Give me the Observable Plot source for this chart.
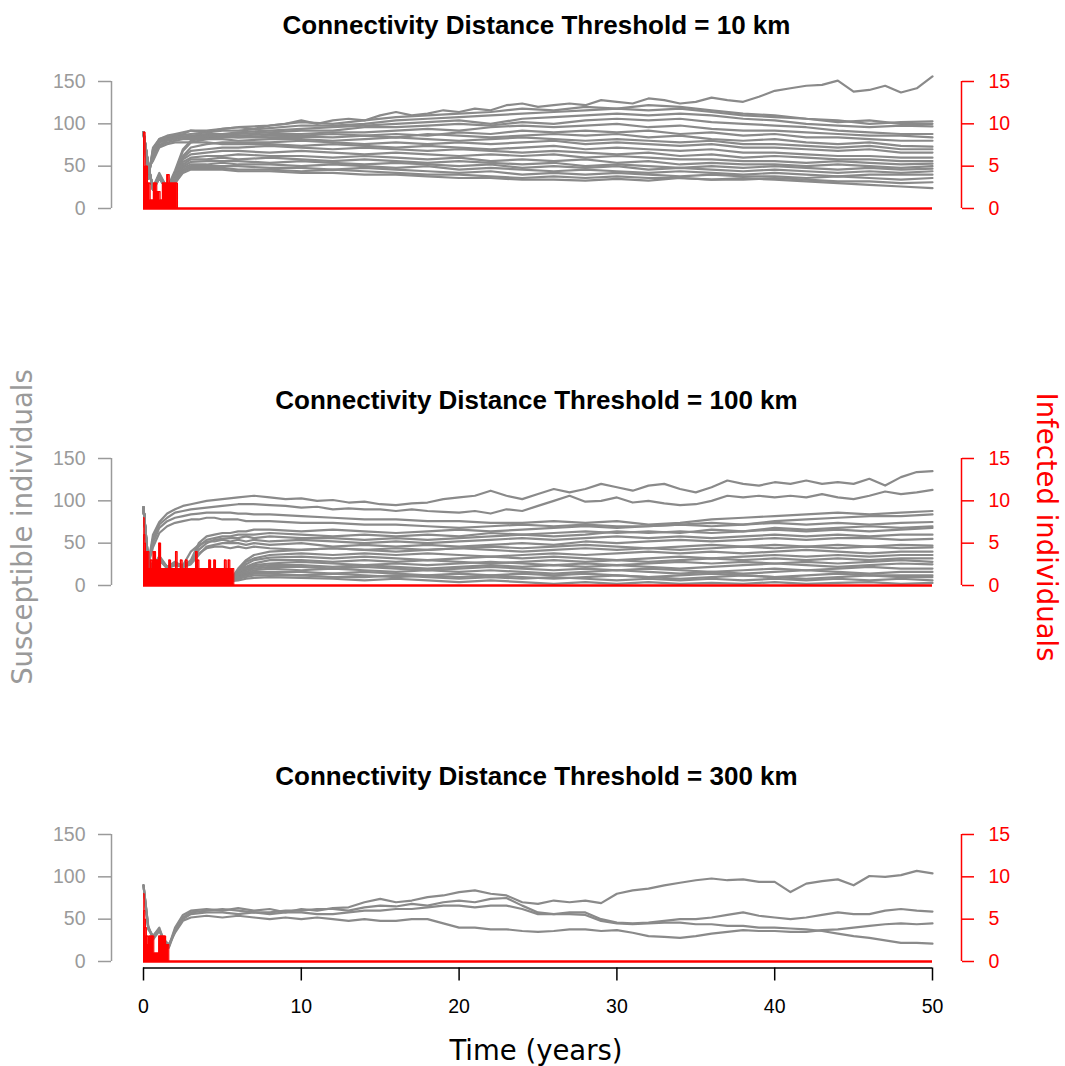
<!DOCTYPE html>
<html>
<head>
<meta charset="utf-8">
<script src="https://cdn.jsdelivr.net/npm/d3@7"></script>
<script src="https://cdn.jsdelivr.net/npm/@observablehq/plot@0.6"></script>
<style>
  body { margin: 0; background: #fff; }
  #root { position: relative; width: 1065px; height: 1066px; overflow: hidden; font-family: "Liberation Sans", Arial, sans-serif; }
  .title { position: absolute; left: 0; width: 1073px; text-align: center; font-weight: bold; font-size: 26px; line-height: 26px; color: #000; }
  .lab { position: absolute; white-space: nowrap; font-family: "DejaVu Sans", sans-serif; font-size: 27.5px; line-height: 28px; }
  svg.panel { position: absolute; left: 0; }
</style>
</head>
<body>
<div id="root"></div>
<script>
// ---------------- DATA ----------------
const titles = [
  "Connectivity Distance Threshold = 10 km",
  "Connectivity Distance Threshold = 100 km",
  "Connectivity Distance Threshold = 300 km"
];
const leftTicks = [0, 50, 100, 150];
const rightTicks = [0, 5, 10, 15];
const xTicks = [0, 10, 20, 30, 40, 50];

// yearly grid used by the individually readable trajectories
const yearlyGrid = [0,0.3,0.6,1,1.5,2,2.5,3,4,5,6,7,8,9,10,11,12,13,14,15,16,17,18,19,20,21,22,23,24,25,26,27,28,29,30,31,32,33,34,35,36,37,38,39,40,41,42,43,44,45,46,47,48,49,50];

// Panel 1 (10 km)
const timesP1 = [0,0.3,0.6,1,1.5,2,2.5,3,4,5,6,8,10,12,14,16,18,20,22,24,26,28,30,32,34,36,38,40,42,44,46,48,50];
const topLineP1 = [90,35,70,82,85,86,88, 92,90,94,96,94,98,100,104,100,104,106,104,110,114,110,112,116,114,118,116,122,124,120,122,124,122,128,126,124,130,128,124,126,131,128,126,132,139,142,145,146,151,138,140,145,137,142,156];
const susP1 = [
  [90,35,72,82,86,88,90,92, 92,94,96,98,102,100,104,108,110,112,114,118,116,120,118,122,120,116,112,110,106,104,100,102,103],
  [90,35,68,80,84,86,87,88, 90,92,92,95,98,98,100,104,106,108,110,112,114,116,118,116,118,114,110,108,106,102,104,100,100],
  [90,40,65,78,82,84,85,86, 88,88,90,92,94,96,98,100,102,104,100,106,108,110,112,110,112,110,106,104,100,98,96,98,97],
  [90,40,62,78,82,84,85,85, 86,88,88,90,92,92,96,96,98,100,98,102,100,104,106,104,106,102,100,98,96,92,90,88,88],
  [90,50,25,42,24,45,70,80, 84,85,86,88,88,90,90,92,94,92,96,98,96,98,100,96,98,94,92,92,90,88,86,86,84],
  [90,45,60,75,80,82,84,84, 85,86,84,86,86,88,86,88,86,90,88,92,90,92,90,92,88,90,86,88,84,84,82,80,80],
  [90,50,22,38,22,42,68,78, 82,84,84,84,85,84,86,84,88,86,84,86,88,86,88,84,86,82,80,82,78,76,78,74,73],
  [90,45,58,74,78,80,82,82, 82,82,80,82,82,80,82,84,82,80,82,84,82,80,82,80,78,80,76,76,74,72,74,70,70],
  [90,50,24,40,24,40,62,72, 76,78,78,78,80,78,76,78,76,78,76,78,80,76,78,76,74,76,72,72,70,68,70,66,66],
  [90,48,56,72,76,78,78,78, 78,76,76,76,74,76,74,72,74,72,70,72,74,70,72,70,68,70,66,66,64,62,62,60,60],
  [90,52,22,36,22,38,60,68, 70,72,72,74,72,70,72,70,68,70,68,66,68,66,64,66,62,64,60,62,60,58,58,56,56],
  [90,50,24,40,22,40,58,64, 66,68,68,66,68,66,64,66,64,62,64,62,64,60,62,60,58,58,56,56,54,56,54,52,53],
  [90,52,22,36,24,38,55,60, 62,62,64,62,62,60,62,60,58,60,56,58,56,58,54,56,52,54,52,52,50,52,50,48,50],
  [90,50,23,38,22,36,52,58, 58,60,58,60,58,56,58,56,54,56,54,52,54,50,52,50,48,50,48,50,48,46,48,46,47],
  [90,52,22,36,22,35,50,55, 56,56,56,54,56,54,52,54,52,50,52,48,50,48,50,46,48,46,44,46,44,42,44,42,44],
  [90,50,24,38,24,34,48,52, 52,54,52,52,50,52,50,48,50,46,48,46,44,46,44,42,44,42,40,42,40,38,40,40,40],
  [90,52,22,36,22,32,46,50, 50,50,50,48,48,46,48,46,44,42,44,40,42,40,42,40,38,40,38,38,36,38,36,34,36],
  [90,50,23,37,24,30,44,48, 48,48,46,46,44,46,44,42,40,40,38,36,38,36,38,36,36,34,34,36,34,32,32,30,31],
  [90,52,22,36,22,30,42,46, 46,46,44,44,42,42,40,40,38,36,36,34,34,33,35,33,36,34,36,34,32,30,28,26,24]
];
const infTimesP1 = [0,0.1,0.25,0.42,0.63,0.84,1.05,1.2,1.48,1.63,2.15];
const infP1 = [9,5,3,1,3,2,1,3,4,3,0];

// Panel 2 (100 km)
const timesP2 = [0,0.3,0.6,1,1.5,2,2.5,3,3.5,4,4.5,5,5.5,6,6.5,7,8,10,12,14,16,18,20,22,24,26,28,30,32,34,36,38,40,42,44,46,48,50];
const topLineP2 = [92,25,60,75,85,90,94, 96,100,102,104,106,104,102,103,100,101,98,99,96,95,97,98,102,104,106,112,106,102,108,114,110,114,120,116,112,118,120,114,110,116,124,120,118,122,120,124,120,122,120,126,118,128,134,135];
const secondLineP2 = [92,25,55,72,80,86,88, 90,92,94,96,96,95,94,92,93,90,91,90,90,88,90,88,87,86,88,85,90,88,94,100,106,99,100,104,98,100,97,95,96,100,106,104,106,104,106,104,108,104,102,106,111,108,110,113];
const susP2 = [
  [92,25,50,68,76,80,82,84,85,86,86,86,86,85,85,84, 84,82,80,78,78,76,76,74,74,76,74,76,72,74,78,80,82,84,86,84,86,88],
  [92,25,45,62,70,74,76,78,78,80,80,78,78,78,76,76, 76,74,74,72,72,70,68,70,72,70,72,70,70,72,70,72,74,72,74,72,74,75],
  [92,30,20,35,22,28,22,30,50,58,60,62,62,64,64,66, 66,64,66,64,62,64,66,64,66,68,70,68,70,72,74,72,76,78,80,82,82,84],
  [92,30,22,32,20,26,24,28,46,54,56,58,58,60,60,60, 62,60,58,60,58,60,58,62,60,62,64,62,64,62,66,64,68,66,68,70,68,70],
  [92,28,20,30,22,25,22,26,42,50,54,55,56,56,58,56, 58,56,56,54,56,54,56,58,60,58,60,64,62,64,62,64,66,64,66,64,66,68],
  [92,30,22,34,22,24,24,40,48,52,52,54,52,54,52,54, 52,54,52,50,52,50,52,54,56,54,56,58,56,58,56,58,60,58,60,58,60,60],
  [92,28,20,30,20,24,22,25,36,46,48,50,50,50,48,50, 48,50,46,48,46,48,46,48,50,48,52,50,52,54,52,54,56,54,56,56,54,55],
  [92,30,22,32,22,26,24,28,38,44,46,46,44,46,44,46, 44,42,44,42,40,42,44,42,40,42,44,42,44,42,44,46,44,46,44,46,44,45],
  [92,20,12,15,10,8,10,8,8,6,8,6,5,18,28,32, 36,38,36,38,36,38,36,34,36,38,36,38,40,38,40,38,40,42,40,38,40,40],
  [92,22,14,12,10,9,8,9,7,8,6,7,6,16,25,30, 33,34,32,34,32,30,32,34,32,34,32,30,32,34,32,34,36,34,36,34,36,36],
  [92,20,12,14,9,8,10,7,8,6,7,5,6,14,22,26, 30,30,28,30,28,30,28,26,28,30,28,30,28,30,32,30,32,30,32,30,32,32],
  [92,22,13,12,10,8,9,8,7,7,6,6,5,12,20,24, 26,28,26,24,26,24,26,28,26,24,26,24,26,28,26,28,26,28,26,28,30,28],
  [92,20,12,14,10,9,8,8,7,6,7,5,5,12,18,22, 24,24,22,24,22,20,22,24,22,24,22,24,22,20,22,24,26,24,22,24,26,25],
  [92,21,13,12,9,8,9,7,8,6,6,5,6,10,16,20, 22,22,20,22,20,18,20,22,20,18,20,18,20,18,16,18,20,18,20,22,20,20],
  [92,20,12,13,10,8,8,8,7,7,6,6,5,10,14,18, 20,18,20,18,16,18,16,18,16,14,16,18,16,14,16,14,16,18,16,14,16,16],
  [92,22,12,12,9,9,8,7,7,6,6,5,5,9,13,16, 16,16,14,16,14,12,14,12,14,12,14,12,10,12,14,12,10,12,14,12,12,12],
  [92,20,13,12,10,8,9,8,7,6,6,6,5,8,12,14, 14,12,14,12,10,12,10,12,10,8,10,12,10,8,10,12,10,8,10,12,10,10],
  [92,21,12,13,9,8,8,7,7,7,6,5,5,8,10,12, 12,12,10,10,12,10,8,10,8,10,8,6,8,6,8,6,8,6,8,6,8,6],
  [92,20,12,12,10,9,8,8,7,6,6,5,5,6,8,9, 10,9,8,6,8,6,4,6,4,2,4,2,4,2,3,2,4,2,3,4,2,3],
  [92,20,12,14,10,8,9,8,7,6,7,5,6,20,30,36, 40,42,44,42,44,42,44,46,44,46,48,46,44,46,48,46,48,46,48,46,48,47]
];
const infTimesP2 = [0,0.04,0.08,0.12,0.34,0.44,0.55,0.61,0.76,0.97,1.08,1.61,1.71,2.03,2.13,2.34,2.45,2.66,2.77,3.3,3.4,3.51,4.14,4.25,4.46,4.56,5.13,5.24,5.37,5.47,5.72];
const infP2 = [8,6,5,4,2,3,2,4,3,5,2,3,2,4,2,3,2,3,2,4,3,2,3,2,3,2,3,2,3,2,0];

// Panel 3 (300 km)
const timesP3 = [0,0.3,0.6,1,1.3,1.6,2,2.5,3,4,5,6,7,8,9,10,11,12,13,14,15,16,17,18,19,20,21,22,23,24,25,26,27,28,29,30,31,32,33,34,35,36,37,38,39,40,41,42,43,44,45,46,47,48,49,50];
const susP3 = [
  [90,40,28,38,25,18,40,55, 60,62,60,63,60,62,58,62,60,63,64,70,74,70,72,76,78,82,84,80,78,70,68,72,70,72,69,80,84,86,90,93,96,98,96,97,94,94,82,92,95,97,90,101,100,102,107,104],
  [90,38,30,40,24,16,36,52, 58,60,62,60,58,58,60,60,62,62,60,64,66,65,68,66,70,72,70,74,75,66,58,56,58,58,50,46,45,46,48,50,50,52,55,58,54,52,50,52,55,58,56,56,60,62,60,59],
  [90,42,26,36,26,20,34,48, 52,54,52,54,52,50,52,50,52,50,48,50,48,48,50,50,45,40,40,38,38,36,35,36,38,38,36,37,34,30,29,28,30,33,35,37,36,36,35,35,37,38,40,42,44,45,44,45],
  [90,40,30,38,22,17,38,50, 56,58,58,56,58,56,58,58,56,56,58,60,60,62,62,64,66,66,64,66,66,62,56,56,56,55,48,45,44,45,46,46,44,44,42,42,40,40,39,38,36,33,30,28,25,22,22,21]
];
const infTimesP3 = [0,0.04,0.08,0.12,0.18,0.3,0.36,0.65,0.97,1.4,1.6];
const infP3 = [8,6,5,4,3,2,3,1,3,2,0];

// ---------------- DRAW ----------------
const GRAY = "#8a8a8a";
const AXG = "#9a9a9a";
const RED = "#ff0000";
const INF_SCALE = 10; // infected axis 0-15 shares the 0-150 scale

const panels = [
  {title: titles[0], top: 51, titleY: 25, series: [{T: yearlyGrid, S: [topLineP1]}, {T: timesP1, S: susP1}], IT: infTimesP1, I: infP1, xaxis: false},
  {title: titles[1], top: 428, titleY: 400, series: [{T: yearlyGrid, S: [topLineP2, secondLineP2]}, {T: timesP2, S: susP2}], IT: infTimesP2, I: infP2, xaxis: false},
  {title: titles[2], top: 804, titleY: 776, series: [{T: timesP3, S: susP3}], IT: infTimesP3, I: infP3, xaxis: true}
];

const root = document.getElementById("root");

for (const p of panels) {
  const sdata = [];
  let id = 0;
  for (const grp of p.series) {
    for (const vals of grp.S) {
      if (vals.length !== grp.T.length) console.warn("length mismatch", p.title, id, vals.length, grp.T.length);
      vals.forEach((v, j) => sdata.push({t: grp.T[j], s: v, id}));
      id++;
    }
  }
  const idata = p.IT.map((t, i) => ({t, v: p.I[i] * INF_SCALE}));
  const H = p.xaxis ? 240 : 180;
  const mt = 30;
  const mb = H - mt - 127;
  const marks = [
    Plot.lineY(sdata, {x: "t", y: "s", z: "id", stroke: GRAY, strokeWidth: 2.2, strokeLinejoin: "round"}),
    Plot.areaY(idata, {x: "t", y: "v", curve: "step-after", fill: RED}),
    Plot.lineY(idata, {x: "t", y: "v", curve: "step-after", stroke: RED, strokeWidth: 1.2}),
    Plot.ruleY([0], {x1: 0, x2: 50, stroke: RED, strokeWidth: 2.5}),
    Plot.ruleX([0], {y1: 0, y2: 150, dx: -32, stroke: AXG, strokeWidth: 1.5}),
    Plot.axisY({anchor: "left", ticks: leftTicks, dx: -32, tickSize: 13, tickPadding: 13, color: AXG, strokeWidth: 1.5, label: null}),
    Plot.ruleX([50], {y1: 0, y2: 150, dx: 29, stroke: RED, strokeWidth: 1.5}),
    Plot.axisY({anchor: "right", ticks: rightTicks.map(d => d * INF_SCALE), tickFormat: d => d / INF_SCALE, dx: 29, tickSize: 12, tickPadding: 15, color: RED, strokeWidth: 1.5, label: null})
  ];
  if (p.xaxis) {
    marks.push(Plot.ruleY([0], {x1: 0, x2: 50, dy: 6.5, stroke: "#000", strokeWidth: 1.5}));
    marks.push(Plot.axisX({anchor: "bottom", ticks: xTicks, dy: 6.5, tickSize: 13, tickPadding: 18, color: "#000", strokeWidth: 1.5, label: null}));
  }
  const svg = Plot.plot({
    width: 1065, height: H,
    marginTop: mt, marginBottom: mb, marginLeft: 143, marginRight: 133,
    x: p.xaxis ? {domain: [0, 50]} : {domain: [0, 50], axis: null},
    y: {domain: [0, 150]},
    style: {fontFamily: "'Liberation Sans', Arial, sans-serif", fontSize: "19.5px", background: "transparent", overflow: "visible"},
    marks
  });
  svg.classList.add("panel");
  svg.style.top = p.top + "px";
  root.appendChild(svg);

  const t = document.createElement("div");
  t.className = "title";
  t.textContent = p.title;
  t.style.top = (p.titleY - 13) + "px";
  root.appendChild(t);
}

// axis titles
function addLabel(text, color, x, y, rot) {
  const d = document.createElement("div");
  d.className = "lab";
  d.textContent = text;
  d.style.color = color;
  d.style.left = x + "px";
  d.style.top = y + "px";
  d.style.transform = "translate(-50%, -50%)" + (rot ? ` rotate(${rot}deg)` : "");
  root.appendChild(d);
}
addLabel("Susceptible individuals", AXG, 22, 527, -90);
addLabel("Infected individuals", RED, 1047, 527, 90);
addLabel("Time (years)", "#000", 536, 1050, 0);
</script>
</body>
</html>
